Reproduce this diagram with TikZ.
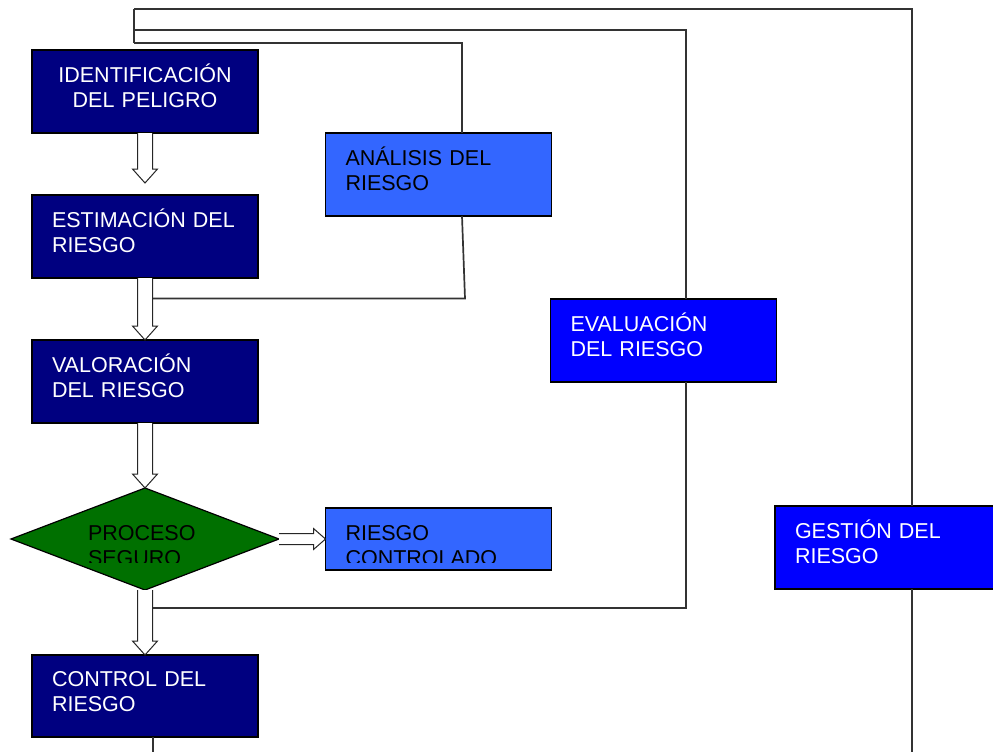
\documentclass[tikz,border=0pt]{standalone}
\usepackage{fontspec}
\setmainfont{Liberation Sans}
\usepackage{xcolor}
\usetikzlibrary{shapes,arrows,positioning,calc}

\definecolor{riskNavy}{RGB}{0,0,128}
\definecolor{riskLight}{RGB}{51,102,255}
\definecolor{riskBlue}{RGB}{0,0,255}
\definecolor{riskGreen}{RGB}{0,112,0}
\newcommand\diagfont{\fontsize{21.5}{25}\selectfont}

\begin{document}
\begin{tikzpicture}[
    x=1pt, y=-1pt,
    node distance=62pt,
    box/.style={rectangle, draw=black, line width=1.2pt, outer sep=0pt, minimum width=226pt, minimum height=83pt, text width=186pt, inner xsep=20pt, inner ysep=4pt, align=left, font=\diagfont, text height=15pt, text depth=34pt},
    navy/.style={box, fill=riskNavy, text=white},
    light/.style={box, fill=riskLight, text=black},
    blue/.style={box, fill=riskBlue, text=white},
    decision/.style={diamond, draw=black, line width=1.2pt, outer sep=0pt, fill=riskGreen, minimum width=268pt, minimum height=102pt, inner sep=0pt},
    boxtext/.style={rectangle, text width=186pt, inner xsep=20pt, inner ysep=0pt, align=left, font=\diagfont, text=black, text height=15pt, text depth=13pt},
    diamtext/.style={boxtext, text width=120pt, inner xsep=0pt},
    link/.style={draw=black!80, line width=1.7pt},
    hollowdown/.style={draw=black!85, line width=1pt, fill=white, to path={let \p1=(\tikztostart), \p2=(\tikztotarget) in
        (\x1-7.5pt,\y1) -- (\x1-7.5pt,\y2+14pt) -- (\x1-12.5pt,\y2+14pt) -- (\x1,\y2) -- (\x1+12.5pt,\y2+14pt) -- (\x1+7.5pt,\y2+14pt) -- (\x1+7.5pt,\y1)}},
    hollowright/.style={draw=black!85, line width=1pt, fill=white, to path={let \p1=(\tikztostart), \p2=(\tikztotarget) in
        (\x1,\y1+5.5pt) -- (\x2-12pt,\y1+5.5pt) -- (\x2-12pt,\y1+10.5pt) -- (\x2,\y1) -- (\x2-12pt,\y1-10.5pt) -- (\x2-12pt,\y1-5.5pt) -- (\x1,\y1-5.5pt)}}
]
    \useasboundingbox (0,0) rectangle (993,752);

    % Main column
    \node[navy, align=center] (ident) at (145,91.5) {IDENTIFICACIÓN\\DEL PELIGRO};
    \node[navy, below=of ident] (estim) {ESTIMACIÓN DEL\\RIESGO};
    \node[navy, below=of estim] (valor) {VALORACIÓN\\DEL RIESGO};
    \node[decision, below=65pt of valor] (proceso) {};
    \node[navy, below=65pt of proceso, minimum height=82pt] (control) {CONTROL DEL\\RIESGO};

    % Side boxes
    \node[light] (analisis) at (438.5,174.5) {ANÁLISIS DEL\\RIESGO};
    \node[blue] (evalua) at (663.5,340.5) {EVALUACIÓN\\DEL RIESGO};
    \node[blue] (gestion) at (888,547.5) {GESTIÓN DEL\\RIESGO};
    \node[light, minimum height=62pt] (controlado) at (438.5,539) {};

    % Clipped texts
    \begin{scope}
        \clip (60,515) rectangle (240,562);
        \node[diamtext] at ([xshift=3pt]proceso.center) {PROCESO\\SEGURO};
    \end{scope}
    \begin{scope}
        \clip (330,515) rectangle (548,562);
        \node[boxtext] at (controlado.center) {RIESGO\\CONTROLADO};
    \end{scope}

    % Brackets
    \coordinate (g0) at (134,9);
    \coordinate (e0) at (134,30);
    \coordinate (a0) at (134,43);
    \coordinate (a1) at (153,298.5);
    \coordinate (e1) at (147,608);
    \coordinate (g1) at (912,752);
    \coordinate (c1) at (153,752);
    \draw[link] (g0) -- (a0);
    \draw[link] (a0) -| (analisis.north -| 462,0);
    \draw[link] (analisis.south -| 462,0) -- (465,298.5) -- (a1);
    \draw[link] (e0) -| (evalua.north -| 686,0);
    \draw[link] (evalua.south -| 686,0) |- (e1);
    \draw[link] (g0) -| (gestion.north -| 912,0);
    \draw[link] (gestion.south -| 912,0) -- (g1);
    \draw[link] (control.south -| c1) -- (c1);

    % Hollow arrows
    \draw[hollowdown] (ident.south) to ([yshift=12pt]estim.north);
    \draw[hollowdown] (estim.south) to (valor.north);
    \draw[hollowdown] (valor.south) to (proceso.north);
    \draw[hollowdown] (proceso.south) to (control.north);
    \draw[hollowright] (proceso.east) to (controlado.west);
\end{tikzpicture}
\end{document}
